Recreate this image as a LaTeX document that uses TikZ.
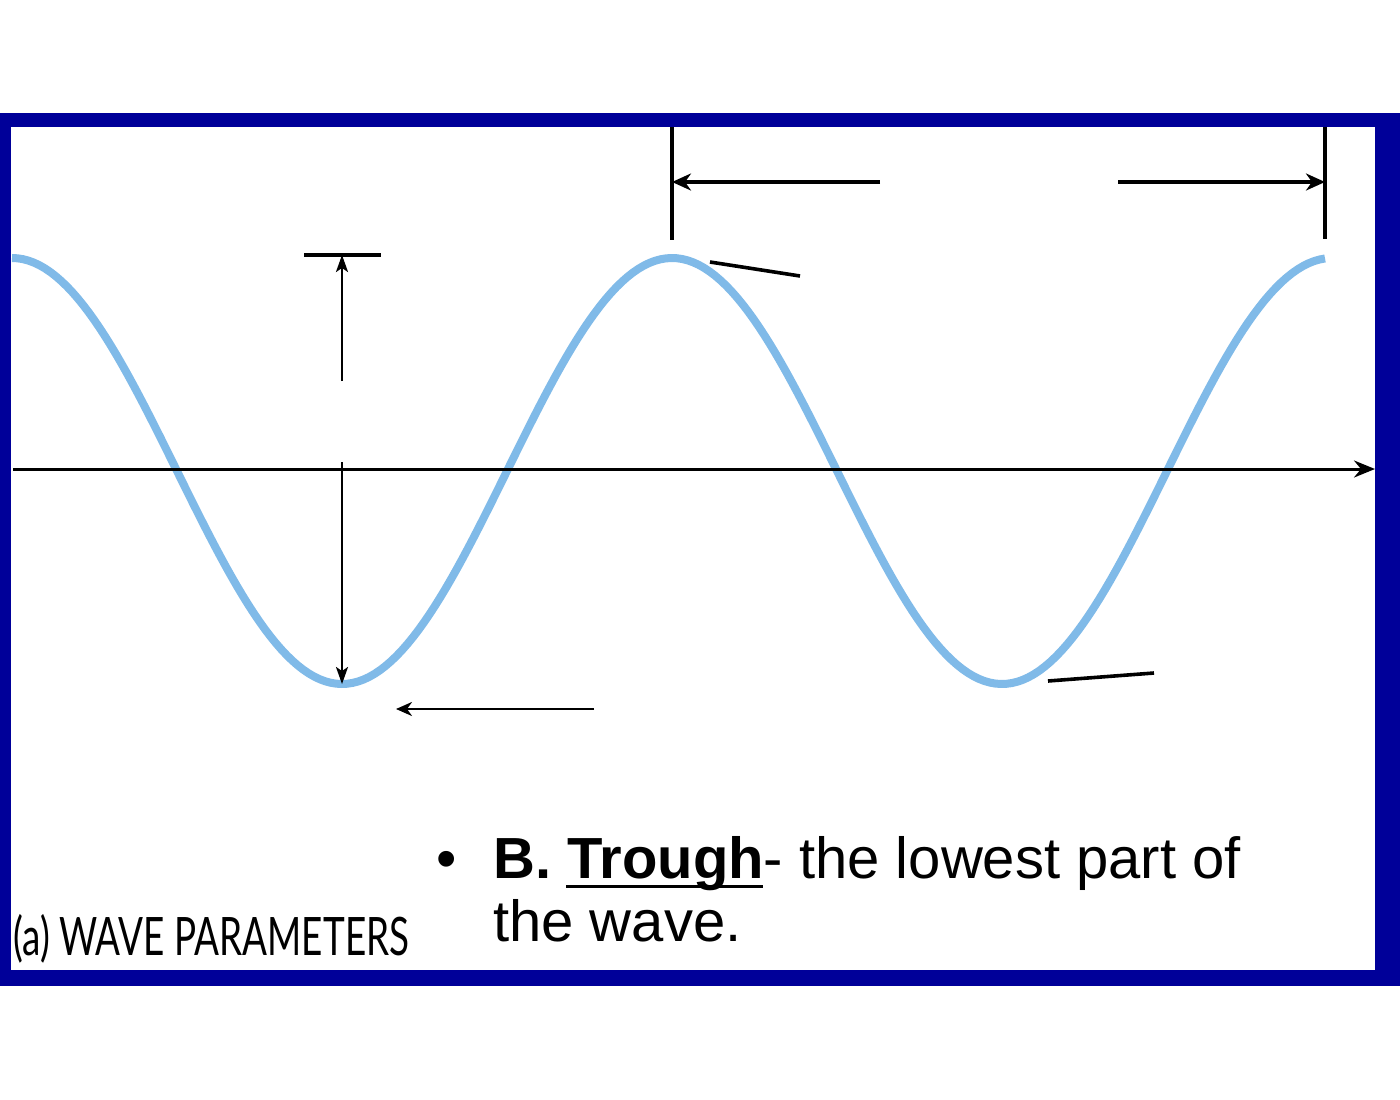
\documentclass[tikz,border=0pt]{standalone}
\usepackage{fontspec}
\setmainfont{Liberation Sans}
\newfontfamily\capfont{Lato}
\usetikzlibrary{arrows.meta}
\definecolor{frameblue}{HTML}{000099}
\definecolor{waveblue}{HTML}{80BAE8}
\tikzset{
  dimline/.style={line width=3.2pt,black},
  thinarrow/.style={line width=2.4pt,black,-{Stealth[length=17pt,width=12pt,inset=4pt]}},
  bigarrow/.style={line width=3.2pt,black,-{Stealth[length=19pt,width=17pt,inset=6pt]}},
  leader/.style={line width=3.6pt,black},
  txt/.style={inner sep=0pt,anchor=base west,font=\fontsize{58pt}{62pt}\selectfont}
}
\begin{document}
\begin{tikzpicture}[x=1pt,y=-1pt]
\path[use as bounding box] (0,0) rectangle (1400,1100);
\fill[white] (0,0) rectangle (1400,1100);
\fill[frameblue] (0,113) rectangle (1400,986);
\fill[white] (11,127) rectangle (1375,970);
% wave
\draw[waveblue,line width=8pt] plot[domain=12:1325,samples=240] (\x,{471-213*cos(0.545454545*(\x-12))});
% axis
\coordinate (axL) at (13,469);
\coordinate (axR) at (1375,469);
\draw[line width=3pt,-{Stealth[length=21pt,width=17pt,inset=7pt]}] (axL) -- (axR);
% wavelength dimension
\coordinate (v1t) at (672,127); \coordinate (v1b) at (672,240);
\coordinate (v2t) at (1325,127); \coordinate (v2b) at (1325,239);
\draw[dimline] (v1t) -- (v1b);
\draw[dimline] (v2t) -- (v2b);
\coordinate (a1s) at (880,182); \coordinate (a1e) at (672,182);
\coordinate (a2s) at (1118,182); \coordinate (a2e) at (1325,182);
\draw[bigarrow] (a1s) -- (a1e);
\draw[bigarrow] (a2s) -- (a2e);
% amplitude
\coordinate (barL) at (304,255); \coordinate (barR) at (381,255);
\draw[line width=3.6pt] (barL) -- (barR);
\coordinate (am1s) at (342,381); \coordinate (am1e) at (342,255);
\draw[thinarrow] (am1s) -- (am1e);
\coordinate (am2s) at (342,462); \coordinate (am2e) at (342,684);
\draw[thinarrow] (am2s) -- (am2e);
% leaders
\coordinate (l1s) at (710,262); \coordinate (l1e) at (800,276);
\draw[leader] (l1s) -- (l1e);
\coordinate (l2s) at (1048,681); \coordinate (l2e) at (1154,673);
\draw[leader] (l2s) -- (l2e);
% bottom arrow
\coordinate (b1s) at (594,709); \coordinate (b1e) at (396,709);
\draw[line width=2.4pt,-{Stealth[length=16pt,width=14pt,inset=5pt]}] (b1s) -- (b1e);
% caption
\node[inner sep=0pt,anchor=base west] (cap) at (13,955) {\scalebox{0.695}[1]{\capfont\fontsize{53pt}{53pt}\selectfont (a) WAVE PARAMETERS}};
% bullet text
\node[inner sep=0pt,anchor=base] (bul) at (447,878) {\fontsize{58pt}{62pt}\selectfont •};
\node[txt] (line1) at (493,878) {\textbf{B. Trough}- the lowest part of};
\node[txt] (line2) at (493,941) {the wave.};
\coordinate (ulL) at (566,886); \coordinate (ulR) at (763,886);
\draw[line width=3pt] (ulL) -- (ulR);
\end{tikzpicture}
\end{document}
